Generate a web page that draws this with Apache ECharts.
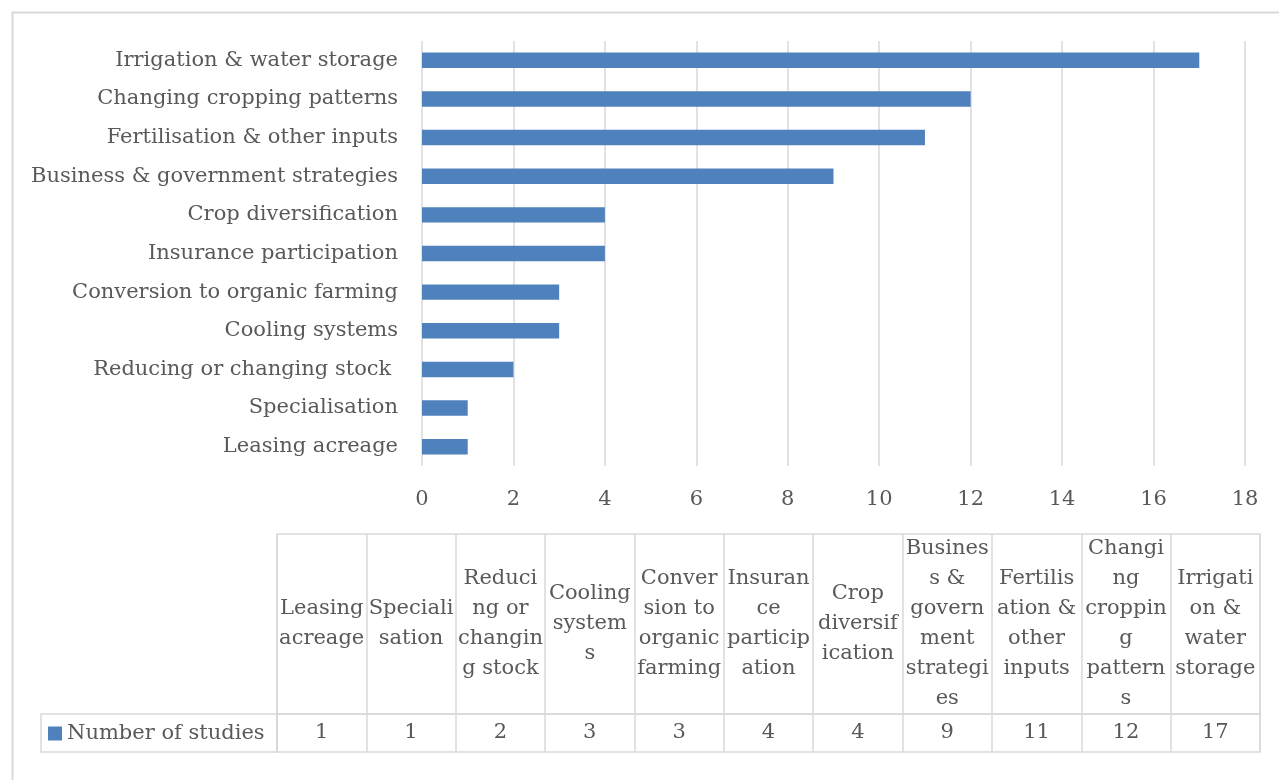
<!DOCTYPE html>
<html>
<head>
<meta charset="utf-8">
<script src="https://cdn.jsdelivr.net/npm/echarts@6/dist/echarts.min.js"></script>
<style>
html,body{margin:0;padding:0;background:#fff;}
#chart{width:1279px;height:780px;}
</style>
</head>
<body>
<div id="chart"></div>
<script>
const categories = ['Leasing acreage', 'Specialisation', 'Reducing or changing stock ', 'Cooling systems', 'Conversion to organic farming', 'Insurance participation', 'Crop diversification', 'Business & government strategies', 'Fertilisation & other inputs', 'Changing cropping patterns', 'Irrigation & water storage'];
const studies = [1, 1, 2, 3, 3, 4, 4, 9, 11, 12, 17];
const tableHeaders = ['Leasing\nacreage', 'Speciali\nsation', 'Reduci\nng or\nchangin\ng stock', 'Cooling\nsystem\ns', 'Conver\nsion to\norganic\nfarming', 'Insuran\nce\nparticip\nation', 'Crop\ndiversif\nication', 'Busines\ns &\ngovern\nment\nstrategi\nes', 'Fertilis\nation &\nother\ninputs', 'Changi\nng\ncroppin\ng\npattern\ns', 'Irrigati\non &\nwater\nstorage'];
const seriesName = 'Number of studies';
const xTicks = {min: 0, max: 18, interval: 2};

const FONT = '"DejaVu Serif", serif';
const TXT = '#595959';
const LINE = '#d9d9d9';
const BLUE = '#4f81bd';
const FS = 21;

const chart = echarts.init(document.getElementById('chart'), null, {renderer: 'canvas'});
const option = {
  animation: false,
  textStyle: {fontFamily: FONT, color: TXT},
  graphic: [{
    type: 'rect', left: 10, top: 10, silent: true,
    shape: {x: 0, y: 0, width: 1400, height: 900},
    style: {fill: 'none', stroke: LINE, lineWidth: 2}
  }],
  legend: {
    data: [seriesName], left: 48, top: 723, icon: 'rect',
    itemWidth: 14, itemHeight: 14, itemGap: 6, padding: 0,
    textStyle: {fontFamily: FONT, fontSize: FS, color: TXT}
  },
  grid: [
    {left: 422, right: 34, top: 41, height: 425, containLabel: false},
    {left: 277, width: 983, top: 534, height: 180, show: true, borderColor: LINE, borderWidth: 1.5},
    {left: 277, width: 983, top: 714, height: 38, show: true, borderColor: LINE, borderWidth: 1.5},
    {left: 41, width: 236, top: 714, height: 38, show: true, borderColor: LINE, borderWidth: 1.5}
  ],
  xAxis: [
    {
      gridIndex: 0, type: 'value', min: xTicks.min, max: xTicks.max, interval: xTicks.interval,
      axisLine: {show: false}, axisTick: {show: false},
      splitLine: {show: true, lineStyle: {color: LINE, width: 1.5}},
      axisLabel: {fontFamily: FONT, fontSize: FS, color: TXT, margin: 23}
    },
    {
      gridIndex: 1, type: 'category', data: tableHeaders, boundaryGap: true,
      axisLine: {show: false}, axisTick: {show: false},
      splitLine: {show: true, interval: 0, lineStyle: {color: LINE, width: 1.5}},
      axisLabel: {inside: true, interval: 0, margin: 90, verticalAlign: 'middle', align: 'center',
        fontFamily: FONT, fontSize: FS, lineHeight: 30, color: TXT}
    },
    {
      gridIndex: 2, type: 'category', data: categories, boundaryGap: true,
      axisLine: {show: false}, axisTick: {show: false},
      splitLine: {show: true, interval: 0, lineStyle: {color: LINE, width: 1.5}},
      axisLabel: {inside: true, interval: 0, margin: 19, verticalAlign: 'middle', align: 'center',
        formatter: (v, i) => String(studies[i]),
        fontFamily: FONT, fontSize: FS, color: TXT}
    },
    {gridIndex: 3, type: 'value', show: false, min: 0, max: 1}
  ],
  yAxis: [
    {
      gridIndex: 0, type: 'category', data: categories,
      axisLine: {show: false}, axisTick: {show: false}, splitLine: {show: false},
      axisLabel: {fontFamily: FONT, fontSize: FS, color: TXT, margin: 24}
    },
    {gridIndex: 1, type: 'value', show: false, min: 0, max: 1},
    {gridIndex: 2, type: 'value', show: false, min: 0, max: 1},
    {gridIndex: 3, type: 'value', show: false, min: 0, max: 1}
  ],
  series: [
    {
      name: seriesName, type: 'bar', xAxisIndex: 0, yAxisIndex: 0,
      data: studies, barWidth: '40%', itemStyle: {color: BLUE}
    }
  ]
};
chart.setOption(option);
</script>
</body>
</html>
